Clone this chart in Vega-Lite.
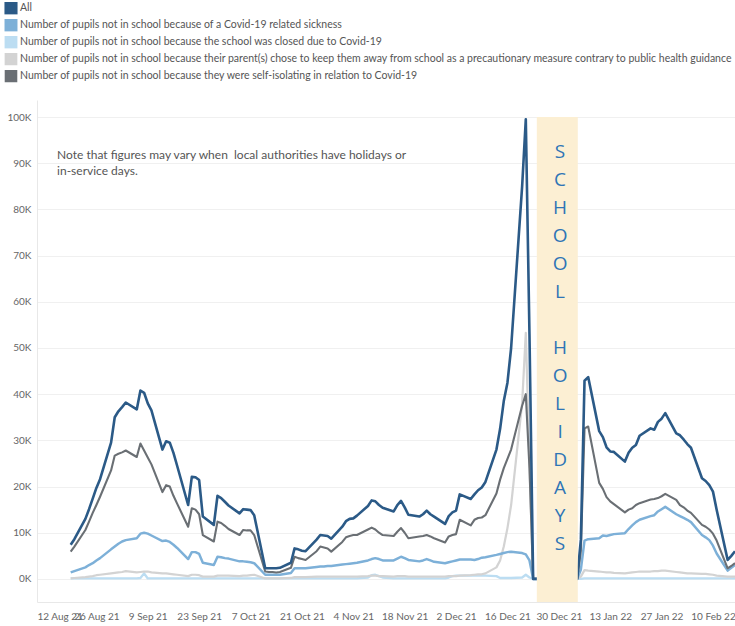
{
  "$schema": "https://vega.github.io/schema/vega-lite/v6.json",
  "width": 698,
  "height": 502,
  "autosize": {"type": "none"},
  "padding": {"left": 37, "top": 100, "right": 0, "bottom": 24},
  "background": "white",
  "config": {"view": {"stroke": null}, "font": "Lato"},
  "layer": [
    {
      "data": {"values": [
        {"date": "2021-08-19", "all": 7400, "iso": 5900, "sick": 1400, "parents": 100, "closed": 100},
        {"date": "2021-08-20", "all": 8600, "iso": 7000, "sick": 1700, "parents": 200, "closed": 100},
        {"date": "2021-08-23", "all": 13000, "iso": 10600, "sick": 2500, "parents": 400, "closed": 100},
        {"date": "2021-08-24", "all": 15100, "iso": 12400, "sick": 3000, "parents": 500, "closed": 100},
        {"date": "2021-08-25", "all": 17400, "iso": 14300, "sick": 3400, "parents": 600, "closed": 100},
        {"date": "2021-08-26", "all": 19700, "iso": 16000, "sick": 4000, "parents": 800, "closed": 100},
        {"date": "2021-08-27", "all": 21600, "iso": 17800, "sick": 4500, "parents": 900, "closed": 100},
        {"date": "2021-08-30", "all": 29500, "iso": 23500, "sick": 6400, "parents": 1200, "closed": 100},
        {"date": "2021-08-31", "all": 35000, "iso": 26700, "sick": 7000, "parents": 1300, "closed": 100},
        {"date": "2021-09-01", "all": 36300, "iso": 27100, "sick": 7600, "parents": 1400, "closed": 100},
        {"date": "2021-09-02", "all": 37200, "iso": 27400, "sick": 8100, "parents": 1500, "closed": 100},
        {"date": "2021-09-03", "all": 38200, "iso": 27800, "sick": 8400, "parents": 1700, "closed": 100},
        {"date": "2021-09-06", "all": 36700, "iso": 26400, "sick": 8800, "parents": 1400, "closed": 100},
        {"date": "2021-09-07", "all": 40800, "iso": 29300, "sick": 9800, "parents": 1500, "closed": 200},
        {"date": "2021-09-08", "all": 40300, "iso": 27800, "sick": 10000, "parents": 1600, "closed": 1200},
        {"date": "2021-09-09", "all": 38000, "iso": 26300, "sick": 9800, "parents": 1600, "closed": 100},
        {"date": "2021-09-10", "all": 36500, "iso": 24800, "sick": 9400, "parents": 1400, "closed": 100},
        {"date": "2021-09-13", "all": 28000, "iso": 18800, "sick": 8200, "parents": 1200, "closed": 100},
        {"date": "2021-09-14", "all": 29800, "iso": 20300, "sick": 8300, "parents": 1200, "closed": 100},
        {"date": "2021-09-15", "all": 29500, "iso": 20000, "sick": 8000, "parents": 1100, "closed": 100},
        {"date": "2021-09-16", "all": 27300, "iso": 18000, "sick": 7400, "parents": 1000, "closed": 100},
        {"date": "2021-09-17", "all": 24500, "iso": 16300, "sick": 6700, "parents": 900, "closed": 100},
        {"date": "2021-09-20", "all": 16000, "iso": 11300, "sick": 4300, "parents": 600, "closed": 100},
        {"date": "2021-09-21", "all": 22100, "iso": 15300, "sick": 5800, "parents": 900, "closed": 100},
        {"date": "2021-09-22", "all": 22000, "iso": 15000, "sick": 5800, "parents": 900, "closed": 100},
        {"date": "2021-09-23", "all": 21400, "iso": 14000, "sick": 5400, "parents": 800, "closed": 100},
        {"date": "2021-09-24", "all": 13500, "iso": 9500, "sick": 3500, "parents": 500, "closed": 100},
        {"date": "2021-09-27", "all": 11700, "iso": 8100, "sick": 3000, "parents": 500, "closed": 100},
        {"date": "2021-09-28", "all": 18000, "iso": 12400, "sick": 4800, "parents": 700, "closed": 100},
        {"date": "2021-09-29", "all": 17500, "iso": 12100, "sick": 4700, "parents": 700, "closed": 100},
        {"date": "2021-09-30", "all": 16700, "iso": 11500, "sick": 4500, "parents": 700, "closed": 100},
        {"date": "2021-10-01", "all": 15900, "iso": 10800, "sick": 4400, "parents": 700, "closed": 100},
        {"date": "2021-10-04", "all": 14200, "iso": 9500, "sick": 3800, "parents": 600, "closed": 100},
        {"date": "2021-10-05", "all": 15100, "iso": 10600, "sick": 3800, "parents": 700, "closed": 100},
        {"date": "2021-10-06", "all": 15000, "iso": 10500, "sick": 3700, "parents": 700, "closed": 100},
        {"date": "2021-10-07", "all": 14900, "iso": 10500, "sick": 3600, "parents": 800, "closed": 100},
        {"date": "2021-10-08", "all": 13800, "iso": 9500, "sick": 3400, "parents": 900, "closed": 100},
        {"date": "2021-10-11", "all": 2300, "iso": 1600, "sick": 900, "parents": 100, "closed": 100},
        {"date": "2021-10-12", "all": 2300, "iso": 1500, "sick": 900, "parents": 100, "closed": 100},
        {"date": "2021-10-13", "all": 2300, "iso": 1500, "sick": 900, "parents": 100, "closed": 100},
        {"date": "2021-10-14", "all": 2300, "iso": 1400, "sick": 900, "parents": 100, "closed": 100},
        {"date": "2021-10-15", "all": 2400, "iso": 1500, "sick": 900, "parents": 100, "closed": 100},
        {"date": "2021-10-18", "all": 3500, "iso": 2400, "sick": 1300, "parents": 200, "closed": 100},
        {"date": "2021-10-19", "all": 6600, "iso": 4800, "sick": 2300, "parents": 400, "closed": 100},
        {"date": "2021-10-20", "all": 6400, "iso": 4500, "sick": 2300, "parents": 400, "closed": 100},
        {"date": "2021-10-21", "all": 6100, "iso": 4300, "sick": 2300, "parents": 400, "closed": 100},
        {"date": "2021-10-22", "all": 6000, "iso": 4100, "sick": 2300, "parents": 400, "closed": 100},
        {"date": "2021-10-25", "all": 8500, "iso": 6000, "sick": 2600, "parents": 500, "closed": 100},
        {"date": "2021-10-26", "all": 9500, "iso": 7000, "sick": 2700, "parents": 500, "closed": 100},
        {"date": "2021-10-27", "all": 9400, "iso": 6800, "sick": 2700, "parents": 500, "closed": 100},
        {"date": "2021-10-28", "all": 9300, "iso": 6600, "sick": 2800, "parents": 500, "closed": 100},
        {"date": "2021-10-29", "all": 8700, "iso": 5900, "sick": 2800, "parents": 500, "closed": 100},
        {"date": "2021-11-01", "all": 11300, "iso": 8000, "sick": 3100, "parents": 500, "closed": 100},
        {"date": "2021-11-02", "all": 12500, "iso": 9000, "sick": 3200, "parents": 500, "closed": 100},
        {"date": "2021-11-03", "all": 13000, "iso": 9300, "sick": 3300, "parents": 500, "closed": 100},
        {"date": "2021-11-04", "all": 13100, "iso": 9500, "sick": 3400, "parents": 500, "closed": 100},
        {"date": "2021-11-05", "all": 13700, "iso": 9500, "sick": 3500, "parents": 500, "closed": 100},
        {"date": "2021-11-08", "all": 15800, "iso": 10700, "sick": 4000, "parents": 600, "closed": 300},
        {"date": "2021-11-09", "all": 17000, "iso": 11100, "sick": 4300, "parents": 700, "closed": 800},
        {"date": "2021-11-10", "all": 16800, "iso": 10700, "sick": 4500, "parents": 700, "closed": 900},
        {"date": "2021-11-11", "all": 16000, "iso": 10000, "sick": 4300, "parents": 600, "closed": 600},
        {"date": "2021-11-12", "all": 15400, "iso": 9500, "sick": 4000, "parents": 600, "closed": 300},
        {"date": "2021-11-15", "all": 14600, "iso": 9300, "sick": 4000, "parents": 500, "closed": 100},
        {"date": "2021-11-16", "all": 16000, "iso": 10200, "sick": 4400, "parents": 600, "closed": 100},
        {"date": "2021-11-17", "all": 16900, "iso": 11000, "sick": 4800, "parents": 600, "closed": 100},
        {"date": "2021-11-18", "all": 15500, "iso": 10000, "sick": 4500, "parents": 600, "closed": 100},
        {"date": "2021-11-19", "all": 13900, "iso": 8800, "sick": 4100, "parents": 500, "closed": 100},
        {"date": "2021-11-22", "all": 13500, "iso": 9200, "sick": 3800, "parents": 500, "closed": 100},
        {"date": "2021-11-23", "all": 14000, "iso": 9300, "sick": 4000, "parents": 500, "closed": 100},
        {"date": "2021-11-24", "all": 14800, "iso": 9500, "sick": 4300, "parents": 500, "closed": 100},
        {"date": "2021-11-25", "all": 14000, "iso": 9200, "sick": 4000, "parents": 500, "closed": 100},
        {"date": "2021-11-26", "all": 13500, "iso": 8800, "sick": 3700, "parents": 500, "closed": 100},
        {"date": "2021-11-29", "all": 11900, "iso": 7900, "sick": 3400, "parents": 500, "closed": 100},
        {"date": "2021-11-30", "all": 13600, "iso": 9200, "sick": 3600, "parents": 600, "closed": 300},
        {"date": "2021-12-01", "all": 14400, "iso": 9500, "sick": 3800, "parents": 600, "closed": 600},
        {"date": "2021-12-02", "all": 14800, "iso": 9700, "sick": 4000, "parents": 600, "closed": 700},
        {"date": "2021-12-03", "all": 18300, "iso": 12800, "sick": 4200, "parents": 700, "closed": 700},
        {"date": "2021-12-06", "all": 17300, "iso": 11600, "sick": 4200, "parents": 800, "closed": 700},
        {"date": "2021-12-07", "all": 18300, "iso": 12800, "sick": 4100, "parents": 900, "closed": 700},
        {"date": "2021-12-08", "all": 19200, "iso": 13200, "sick": 4300, "parents": 1000, "closed": 700},
        {"date": "2021-12-09", "all": 19800, "iso": 13300, "sick": 4600, "parents": 1000, "closed": 700},
        {"date": "2021-12-10", "all": 21000, "iso": 13800, "sick": 4700, "parents": 1200, "closed": 700},
        {"date": "2021-12-13", "all": 28000, "iso": 18500, "sick": 5200, "parents": 2500, "closed": 600},
        {"date": "2021-12-14", "all": 32500, "iso": 21500, "sick": 5400, "parents": 4000, "closed": 200},
        {"date": "2021-12-15", "all": 38500, "iso": 24000, "sick": 5600, "parents": 7000, "closed": 200},
        {"date": "2021-12-16", "all": 42500, "iso": 26000, "sick": 5800, "parents": 11000, "closed": 200},
        {"date": "2021-12-17", "all": 50000, "iso": 28000, "sick": 5900, "parents": 16000, "closed": 200},
        {"date": "2021-12-20", "all": 85000, "iso": 37500, "sick": 5600, "parents": 38000, "closed": 300},
        {"date": "2021-12-21", "all": 99500, "iso": 40000, "sick": 5300, "parents": 53300, "closed": 900},
        {"date": "2021-12-22", "all": 53000, "iso": 24000, "sick": 4000, "parents": 25000, "closed": 300},
        {"date": "2021-12-23", "all": 0, "iso": 0, "sick": 0, "parents": 0, "closed": 0},
        {"date": "2022-01-04", "all": 0, "iso": 0, "sick": 0, "parents": 0, "closed": 0},
        {"date": "2022-01-05", "all": 8500, "iso": 6000, "sick": 2000, "parents": 500, "closed": 0},
        {"date": "2022-01-06", "all": 42900, "iso": 32600, "sick": 8300, "parents": 1900, "closed": 100},
        {"date": "2022-01-07", "all": 43700, "iso": 33000, "sick": 8600, "parents": 1800, "closed": 100},
        {"date": "2022-01-10", "all": 32000, "iso": 20800, "sick": 8800, "parents": 1600, "closed": 100},
        {"date": "2022-01-11", "all": 30700, "iso": 19500, "sick": 9400, "parents": 1500, "closed": 100},
        {"date": "2022-01-12", "all": 28500, "iso": 17700, "sick": 9300, "parents": 1400, "closed": 100},
        {"date": "2022-01-13", "all": 27600, "iso": 16800, "sick": 9500, "parents": 1400, "closed": 100},
        {"date": "2022-01-14", "all": 27500, "iso": 16200, "sick": 9700, "parents": 1300, "closed": 100},
        {"date": "2022-01-17", "all": 25400, "iso": 14400, "sick": 9900, "parents": 1200, "closed": 100},
        {"date": "2022-01-18", "all": 27300, "iso": 15000, "sick": 10800, "parents": 1300, "closed": 100},
        {"date": "2022-01-19", "all": 28400, "iso": 15300, "sick": 11600, "parents": 1400, "closed": 100},
        {"date": "2022-01-20", "all": 29000, "iso": 16000, "sick": 12300, "parents": 1500, "closed": 100},
        {"date": "2022-01-21", "all": 31000, "iso": 16400, "sick": 12800, "parents": 1600, "closed": 100},
        {"date": "2022-01-24", "all": 32600, "iso": 17200, "sick": 13600, "parents": 1600, "closed": 100},
        {"date": "2022-01-25", "all": 32300, "iso": 17300, "sick": 13800, "parents": 1700, "closed": 100},
        {"date": "2022-01-26", "all": 34000, "iso": 17500, "sick": 14600, "parents": 1700, "closed": 100},
        {"date": "2022-01-27", "all": 34700, "iso": 17900, "sick": 15100, "parents": 1800, "closed": 100},
        {"date": "2022-01-28", "all": 35900, "iso": 18400, "sick": 15600, "parents": 1800, "closed": 100},
        {"date": "2022-01-31", "all": 31500, "iso": 17100, "sick": 14000, "parents": 1500, "closed": 100},
        {"date": "2022-02-01", "all": 31100, "iso": 16000, "sick": 13600, "parents": 1400, "closed": 100},
        {"date": "2022-02-02", "all": 30200, "iso": 15500, "sick": 13200, "parents": 1300, "closed": 100},
        {"date": "2022-02-03", "all": 29200, "iso": 14800, "sick": 12800, "parents": 1200, "closed": 100},
        {"date": "2022-02-04", "all": 28400, "iso": 14300, "sick": 12300, "parents": 1200, "closed": 100},
        {"date": "2022-02-07", "all": 21800, "iso": 11700, "sick": 9500, "parents": 1100, "closed": 100},
        {"date": "2022-02-08", "all": 21200, "iso": 11300, "sick": 9000, "parents": 1100, "closed": 100},
        {"date": "2022-02-09", "all": 20300, "iso": 10700, "sick": 8400, "parents": 1000, "closed": 100},
        {"date": "2022-02-10", "all": 18900, "iso": 9800, "sick": 7200, "parents": 900, "closed": 100},
        {"date": "2022-02-11", "all": 15000, "iso": 8300, "sick": 5500, "parents": 700, "closed": 100},
        {"date": "2022-02-14", "all": 4100, "iso": 2300, "sick": 1800, "parents": 500, "closed": 100},
        {"date": "2022-02-15", "all": 5000, "iso": 2800, "sick": 2400, "parents": 500, "closed": 100},
        {"date": "2022-02-16", "all": 6000, "iso": 3400, "sick": 3000, "parents": 500, "closed": 100}
      ]},
      "transform": [{"fold": ["closed", "parents", "sick", "iso", "all"], "as": ["series", "value"]}],
      "mark": {"type": "line", "clip": true, "strokeJoin": "round"},
      "encoding": {
        "x": {
          "field": "date", "type": "temporal",
          "scale": {"type": "utc", "domain": [
            {"year": 2021, "month": 8, "date": 9, "hours": 19, "minutes": 40, "utc": true},
            {"year": 2022, "month": 2, "date": 16, "utc": true}
          ]},
          "axis": {
            "title": null, "format": "%-d %b %y", "ticks": false, "grid": false,
            "domainColor": "#e8e8e8", "labelColor": "#666", "labelFontSize": 10, "labelPadding": 9,
            "labelOverlap": false, "labelFlush": 10, "labelFlushOffset": 8,
            "values": [
              {"year": 2021, "month": 8, "date": 12, "utc": true},
              {"year": 2021, "month": 8, "date": 26, "utc": true},
              {"year": 2021, "month": 9, "date": 9, "utc": true},
              {"year": 2021, "month": 9, "date": 23, "utc": true},
              {"year": 2021, "month": 10, "date": 7, "utc": true},
              {"year": 2021, "month": 10, "date": 21, "utc": true},
              {"year": 2021, "month": 11, "date": 4, "utc": true},
              {"year": 2021, "month": 11, "date": 18, "utc": true},
              {"year": 2021, "month": 12, "date": 2, "utc": true},
              {"year": 2021, "month": 12, "date": 16, "utc": true},
              {"year": 2021, "month": 12, "date": 30, "utc": true},
              {"year": 2022, "month": 1, "date": 13, "utc": true},
              {"year": 2022, "month": 1, "date": 27, "utc": true},
              {"year": 2022, "month": 2, "date": 10, "utc": true}
            ]
          }
        },
        "y": {
          "field": "value", "type": "quantitative",
          "scale": {"domain": [-5000, 103700], "nice": false, "zero": false},
          "axis": {
            "title": null, "ticks": false, "domainColor": "#e8e8e8", "gridColor": "#f0f0f0",
            "labelColor": "#666", "labelFontSize": 10, "labelPadding": 6,
            "values": [0, 10000, 20000, 30000, 40000, 50000, 60000, 70000, 80000, 90000, 100000],
            "labelExpr": "(datum.value / 1000) + 'K'"
          }
        },
        "color": {
          "field": "series", "type": "nominal",
          "scale": {"domain": ["all", "sick", "closed", "parents", "iso"],
                    "range": ["#2B5A87", "#7DB0D8", "#BCDDF2", "#D3D3D3", "#6A6F74"]},
          "legend": {
            "orient": "none", "legendX": -33, "legendY": -98, "title": null, "padding": 0,
            "symbolType": "square", "symbolSize": 110, "rowPadding": 4, "clipHeight": 12.5,
            "labelFontSize": 10.5, "labelColor": "#555", "labelLimit": 900, "labelOffset": 2,
            "labelExpr": "datum.value == 'all' ? 'All' : datum.value == 'sick' ? 'Number of pupils not in school because of a Covid-19 related sickness' : datum.value == 'closed' ? 'Number of pupils not in school because the school was closed due to Covid-19' : datum.value == 'parents' ? 'Number of pupils not in school because their parent(s) chose to keep them away from school as a precautionary measure contrary to public health guidance' : 'Number of pupils not in school because they were self-isolating in relation to Covid-19'",
            "encode": {"symbols": {"update": {"fill": {"scale": "color", "field": "value"}, "fillOpacity": {"value": 1}, "strokeWidth": {"value": 0}}}}
          }
        },
        "strokeWidth": {
          "field": "series", "type": "nominal",
          "scale": {"domain": ["all", "sick", "closed", "parents", "iso"], "range": [2.6, 2.1, 2.1, 2.1, 2.1]},
          "legend": null
        }
      }
    },
    {
      "data": {"values": [{}]},
      "mark": {"type": "rect", "color": "#FCEFD3"},
      "encoding": {
        "x": {"datum": {"year": 2021, "month": 12, "date": 24, "utc": true}, "type": "temporal"},
        "x2": {"datum": {"year": 2022, "month": 1, "date": 4, "hours": 4, "utc": true}},
        "y": {"datum": -5000, "type": "quantitative"},
        "y2": {"datum": 100000}
      }
    },
    {
      "data": {"values": [{}]},
      "mark": {"type": "text", "text": "S\nC\nH\nO\nO\nL", "lineBreak": "\n", "lineHeight": 28,
               "fontSize": 19, "color": "#2E75B6", "align": "center", "baseline": "middle", "font": "Open Sans"},
      "encoding": {
        "x": {"datum": {"year": 2021, "month": 12, "date": 30, "hours": 8, "utc": true}, "type": "temporal"},
        "y": {"datum": 92500, "type": "quantitative"}
      }
    },
    {
      "data": {"values": [{}]},
      "mark": {"type": "text", "text": "H\nO\nL\nI\nD\nA\nY\nS", "lineBreak": "\n", "lineHeight": 28,
               "fontSize": 19, "color": "#2E75B6", "align": "center", "baseline": "middle", "font": "Open Sans"},
      "encoding": {
        "x": {"datum": {"year": 2021, "month": 12, "date": 30, "hours": 8, "utc": true}, "type": "temporal"},
        "y": {"datum": 50000, "type": "quantitative"}
      }
    },
    {
      "data": {"values": [{}]},
      "mark": {"type": "text", "text": "Note that figures may vary when\u00a0 local authorities have holidays or\nin-service days.", "lineBreak": "\n", "lineHeight": 16,
               "fontSize": 12, "color": "#555", "align": "left", "baseline": "middle"},
      "encoding": {
        "x": {"datum": {"year": 2021, "month": 8, "date": 15, "hours": 7, "utc": true}, "type": "temporal"},
        "y": {"datum": 91800, "type": "quantitative"}
      }
    }
  ]
}
